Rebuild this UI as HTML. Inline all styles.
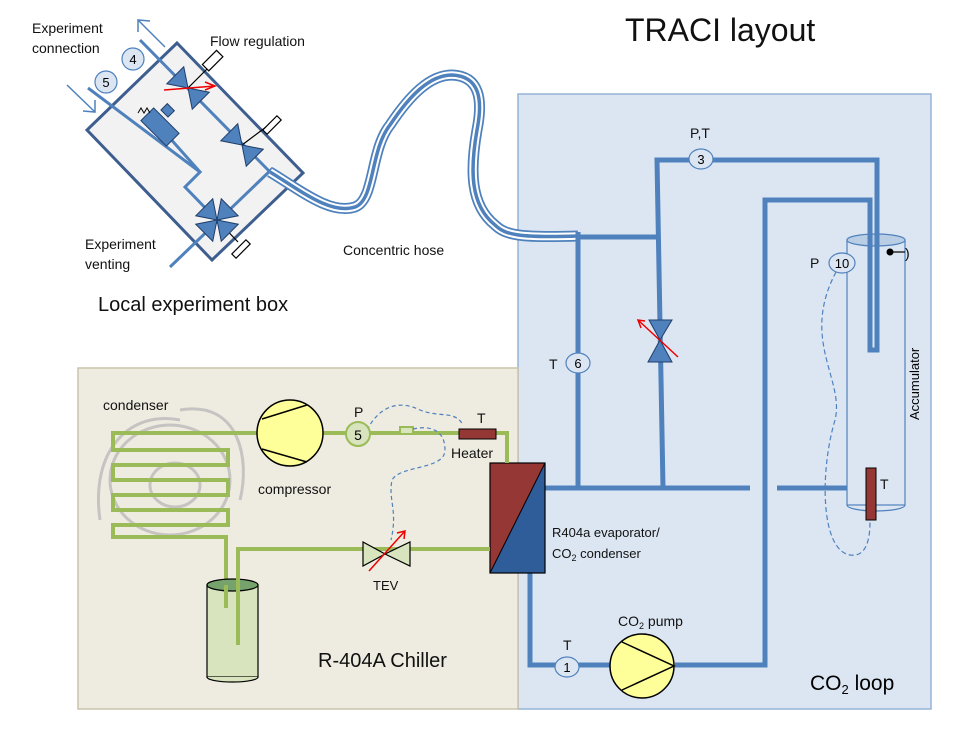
<!DOCTYPE html>
<html><head><meta charset="utf-8"><style>
html,body{margin:0;padding:0;background:#fff;}
svg{display:block;font-family:"Liberation Sans",sans-serif;}
</style></head><body>
<svg width="980" height="737" viewBox="0 0 980 737" xmlns="http://www.w3.org/2000/svg">
<defs>
<path id="hose" d="M 270 172 C 300 190 330 215 355 207 C 375 200 370 150 390 125 C 410 95 430 75 452 75 C 480 76 483 100 477 130 C 470 170 470 205 495 225 C 505 235 520 238 578 236"/>
<g id="bow"><polygon points="-18,-12 -18,12 0,0"/><polygon points="18,-12 18,12 0,0"/></g>
</defs>
<!-- backgrounds -->
<rect x="518" y="94" width="413" height="615" fill="#dce6f2" stroke="#95b3d7" stroke-width="1.5"/>
<rect x="78" y="368" width="440" height="341" fill="#eeebe0" stroke="#c9c4aa" stroke-width="1.5"/>
<text x="625" y="41" font-size="32" fill="#111">TRACI layout</text>

<!-- Local experiment box -->
<polygon points="177,43 303,173 212,260 87,130" fill="#f2f2f2" stroke="#3d5e8f" stroke-width="3"/>
<g stroke="#4f81bd" stroke-width="3" fill="none">
  <line x1="140" y1="40" x2="270" y2="172"/>
  <polyline points="88,88 200,172 185,187 217,220"/>
  <line x1="160" y1="127" x2="200" y2="172"/>
  <line x1="273" y1="168" x2="170" y2="267"/>
</g>
<!-- arrows outside box -->
<g stroke="#4f81bd" stroke-width="1.5" fill="none">
  <line x1="165" y1="47" x2="138" y2="20"/><polyline points="138,32 138,20 150,21"/>
  <line x1="67" y1="85" x2="95" y2="112"/><polyline points="95,100 95,112 83,111"/>
</g>
<!-- stems -->
<g stroke="#000" stroke-width="1.2" fill="#fff">
  <line x1="188" y1="88" x2="212" y2="64"/><rect x="203" y="56" width="20" height="9" transform="rotate(-45 213 61)"/>
  <line x1="242" y1="145" x2="266" y2="127"/><rect x="262" y="122" width="20" height="6" transform="rotate(-45 272 125)"/>
  <line x1="217" y1="220" x2="238" y2="242"/><rect x="231" y="246" width="20" height="6" transform="rotate(-45 241 249)"/>
</g>
<!-- valves -->
<g fill="#4f81bd" stroke="#1f3e6a" stroke-width="1">
  <use href="#bow" transform="translate(188,88) rotate(45)"/>
  <use href="#bow" transform="translate(242,145) rotate(45)"/>
  <use href="#bow" transform="translate(217,220) rotate(45)"/>
  <use href="#bow" transform="translate(217,220) rotate(-45)"/>
  <rect x="142" y="118" width="36" height="18" transform="rotate(45 160 127)"/>
  <rect x="163" y="106" width="10" height="9" transform="rotate(45 168 110)"/>
</g>
<path d="M 138 113 l 3 -5 l 3 5 l 3 -5 l 3 5" stroke="#000" fill="none" stroke-width="1"/>
<g stroke="#e00" stroke-width="1.5" fill="none"><line x1="164" y1="90" x2="215" y2="86"/><polyline points="205,82 215,86 205,90"/></g>
<g fill="#dce6f2" stroke="#4f81bd" stroke-width="1.2">
  <circle cx="133" cy="59" r="11"/><circle cx="106" cy="82" r="11"/>
</g>
<text x="133" y="64" font-size="13" text-anchor="middle">4</text>
<text x="106" y="87" font-size="13" text-anchor="middle">5</text>
<g font-size="14" fill="#111">
<text x="32" y="33">Experiment</text><text x="32" y="53">connection</text>
<text x="210" y="46">Flow regulation</text>
<text x="85" y="249">Experiment</text><text x="85" y="269">venting</text>
<text x="343" y="255">Concentric hose</text>
</g>
<text x="98" y="311" font-size="20" fill="#111">Local experiment box</text>

<!-- hose -->
<use href="#hose" fill="none" stroke="#4f81bd" stroke-width="11"/>
<use href="#hose" fill="none" stroke="#fff" stroke-width="7.5"/>
<use href="#hose" fill="none" stroke="#4f81bd" stroke-width="3.5"/>

<!-- CO2 loop pipes -->
<g stroke="#4f81bd" stroke-width="5" fill="none">
  <line x1="578" y1="237" x2="657" y2="237"/>
  <line x1="578" y1="232" x2="578" y2="488"/>
  <polyline points="663,488 657,160 877,160 877,350 870,350 870,200 765,200 765,665 675,665"/>
  <line x1="545" y1="488" x2="750" y2="488"/>
  <line x1="777" y1="488" x2="847" y2="488"/>
  <polyline points="530,573 530,665 610,665"/>
</g>
<!-- accumulator -->
<rect x="847" y="240" width="58" height="265" fill="#dce6f2" stroke="#4f81bd" stroke-width="1.2" fill-opacity="0.6"/>
<path d="M 847 505 A 29 6 0 0 0 905 505" fill="none" stroke="#4f81bd" stroke-width="1.2"/>
<ellipse cx="876" cy="240" rx="29" ry="6" fill="#b9cde5" stroke="#4f81bd" stroke-width="1.2"/>
<g stroke="#4f81bd" stroke-width="5" fill="none"><polyline points="877,160 877,350 870,350 870,200"/></g>
<circle cx="890" cy="252" r="3.5" fill="#000"/><line x1="890" y1="252" x2="905" y2="252" stroke="#000" stroke-width="1.2"/>
<text x="905" y="258" font-size="14">)</text>
<rect x="866" y="468" width="10" height="52" fill="#953735" stroke="#000" stroke-width="1"/>
<path d="M 836 272 C 800 340 845 380 835 420 C 820 470 820 550 850 555 C 870 558 870 530 870 520" fill="none" stroke="#4f81bd" stroke-width="1.2" stroke-dasharray="5,3"/>
<text transform="translate(919,420) rotate(-90)" font-size="13">Accumulator</text>

<!-- CO2 valve -->
<g fill="#4f81bd" stroke="#1f3e6a" stroke-width="1"><polygon points="649,320 672,320 660,340"/><polygon points="648,362 672,362 660,340"/></g>
<g stroke="#e00" stroke-width="1.5" fill="none"><line x1="678" y1="357" x2="638" y2="320"/><polyline points="645,321 638,320 641,328"/></g>

<!-- sensor circles CO2 -->
<g fill="#dce6f2" stroke="#4f81bd" stroke-width="1.2">
  <ellipse cx="578" cy="363" rx="12" ry="10"/><ellipse cx="701" cy="159" rx="12" ry="10"/>
  <ellipse cx="842" cy="263" rx="13" ry="10"/><ellipse cx="567" cy="667" rx="12" ry="10"/>
</g>
<g font-size="13" text-anchor="middle"><text x="578" y="368">6</text><text x="701" y="164">3</text><text x="842" y="268">10</text><text x="567" y="672">1</text></g>
<g font-size="14" fill="#111">
<text x="549" y="369">T</text><text x="690" y="138">P,T</text><text x="810" y="268">P</text>
<text x="880" y="489">T</text><text x="563" y="650">T</text>
<text x="618" y="626">CO<tspan font-size="9" dy="3">2</tspan><tspan dy="-3"> pump</tspan></text>
<text x="552" y="537" font-size="13">R404a evaporator/</text>
<text x="552" y="558" font-size="13">CO<tspan font-size="9" dy="3">2</tspan><tspan dy="-3"> condenser</tspan></text>
</g>
<text x="810" y="690" font-size="21">CO<tspan font-size="13" dy="4">2</tspan><tspan dy="-4"> loop</tspan></text>
<!-- pump -->
<circle cx="642" cy="666" r="32" fill="#ffff99" stroke="#000" stroke-width="1.5"/>
<polyline points="622,642 674,666 622,690" fill="none" stroke="#000" stroke-width="1.5"/>

<!-- heat exchanger -->
<polygon points="490,463 545,463 490,573" fill="#953735"/>
<polygon points="545,463 545,573 490,573" fill="#2e5d99"/>
<rect x="490" y="463" width="55" height="110" fill="none" stroke="#000" stroke-width="1.2"/>
<line x1="545" y1="463" x2="490" y2="573" stroke="#000" stroke-width="1"/>

<!-- chiller -->
<g stroke="#bbb" stroke-width="3" fill="none" opacity="0.8">
  <ellipse cx="170" cy="480" rx="60" ry="55"/><ellipse cx="175" cy="485" rx="25" ry="22"/>
  <path d="M 100 520 C 90 450 130 410 180 420"/><path d="M 180 410 C 240 400 250 460 240 500"/>
</g>
<g stroke="#9bbb59" stroke-width="4" fill="none">
  <polyline points="258,433 113,433 113,450 228,450 228,465 113,465 113,480 228,480 228,495 113,495 113,510 228,510 228,525 113,525 113,537 226,537 226,608"/>
  <polyline points="322,433 507,433 507,463"/>
  <polyline points="490,549 238,549 238,645"/>
</g>
<path d="M 400 433 L 400 427 L 413 427 L 413 433" fill="#d7e4bd" stroke="#9bbb59" stroke-width="2"/>
<rect x="459" y="429" width="37" height="10" fill="#953735" stroke="#000" stroke-width="1"/>
<path d="M 367 430 C 380 405 400 400 420 410 C 440 418 455 410 463 425" fill="none" stroke="#4f81bd" stroke-width="1.2" stroke-dasharray="4,3"/>
<path d="M 413 429 C 430 425 445 430 445 450 C 445 470 400 465 392 480 C 388 500 398 510 391 540" fill="none" stroke="#4f81bd" stroke-width="1.2" stroke-dasharray="4,3"/>
<!-- receiver -->
<rect x="207" y="585" width="51" height="92" fill="#d7e4bd" stroke="#000" stroke-width="1.2"/>
<path d="M 207 677 A 25.5 5 0 0 0 258 677" fill="#d7e4bd" stroke="#000" stroke-width="1.2"/>
<ellipse cx="232.5" cy="585" rx="25.5" ry="6" fill="#76a36c" stroke="#000" stroke-width="1.2"/>
<g stroke="#9bbb59" stroke-width="4"><line x1="226" y1="585" x2="226" y2="608"/><line x1="238" y1="555" x2="238" y2="645"/></g>
<!-- compressor -->
<circle cx="290" cy="433" r="33" fill="#ffff99" stroke="#000" stroke-width="1.5"/>
<line x1="262" y1="419" x2="307" y2="405" stroke="#000" stroke-width="1.5"/>
<line x1="262" y1="449" x2="307" y2="462" stroke="#000" stroke-width="1.5"/>
<circle cx="358" cy="434" r="12" fill="#d7e4bd" stroke="#9bbb59" stroke-width="2"/>
<text x="358" y="440" font-size="14" text-anchor="middle">5</text>
<!-- TEV -->
<g fill="#d7e4bd" stroke="#000" stroke-width="1.2"><polygon points="363,542 363,566 385,554"/><polygon points="410,542 410,566 385,554"/></g>
<g stroke="#e00" stroke-width="1.5" fill="none"><line x1="369" y1="571" x2="405" y2="531"/><polyline points="397,533 405,531 404,539"/></g>
<g font-size="14" fill="#111">
<text x="103" y="410">condenser</text><text x="258" y="494">compressor</text>
<text x="354" y="417">P</text><text x="477" y="423">T</text><text x="451" y="458">Heater</text>
<text x="373" y="590" font-size="13">TEV</text>
</g>
<text x="318" y="667" font-size="20" fill="#111">R-404A Chiller</text>
</svg>
</body></html>
